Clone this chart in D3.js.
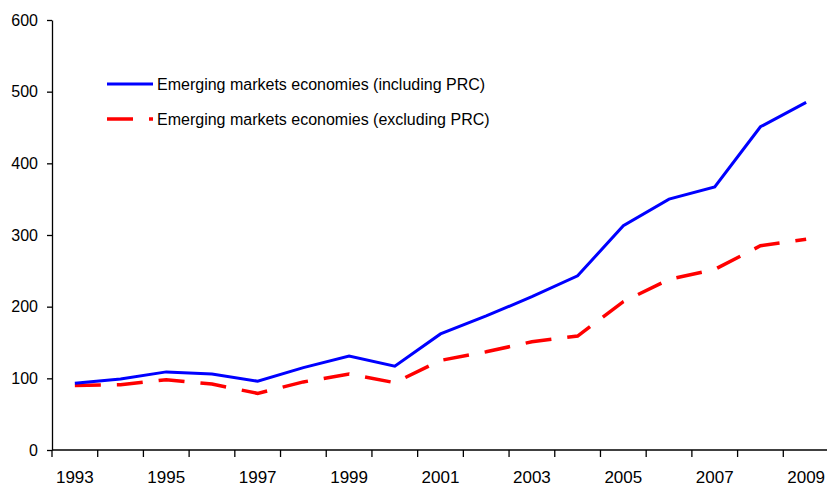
<!DOCTYPE html>
<html>
<head>
<meta charset="utf-8">
<title>Emerging markets</title>
<script src="https://d3js.org/d3.v7.min.js"></script>
<style>
  body { margin: 0; background: #fff; }
  text { font-family: "Liberation Sans", Arial, sans-serif; fill: #000; }
  .axis path, .axis line { stroke: #000; stroke-width: 1.3; }
</style>
</head>
<body>
<svg width="827" height="487"></svg>
<script>
var years = d3.range(1993, 2010);
var inclPRC = [93, 99, 109, 106, 96, 115, 131, 117, 162, 187, 214, 243, 313, 350, 367, 451, 485];
var exclPRC = [90, 91, 98, 92, 79, 95, 106, 94, 125, 137, 151, 159, 207, 238, 252, 285, 294];
var yTicks = [0, 100, 200, 300, 400, 500, 600];
var seriesNames = ["Emerging markets economies (including PRC)", "Emerging markets economies (excluding PRC)"];

var svg = d3.select("svg"),
    plotLeft = 52, plotRight = 829, plotTop = 20, plotBottom = 450;

var x = d3.scaleBand().domain(years).range([plotLeft, plotRight]).padding(0);
var y = d3.scaleLinear().domain([0, 600]).range([plotBottom, plotTop]);

// y axis
var yAxis = svg.append("g").attr("class", "axis")
    .attr("transform", "translate(" + plotLeft + ",0)")
    .call(d3.axisLeft(y).tickValues(yTicks).tickSize(5).tickPadding(9).tickSizeOuter(0));
yAxis.selectAll("text").style("font-size", "16px");

// x axis: ticks on category boundaries, labels every other year
var xAxis = svg.append("g").attr("class", "axis")
    .attr("transform", "translate(0," + plotBottom + ")");
xAxis.append("line").attr("x1", plotLeft).attr("x2", plotRight).attr("y1", 0).attr("y2", 0);
xAxis.selectAll(".tk").data(years.concat([2010]))
  .enter().append("line").attr("class", "tk")
    .attr("x1", function(d) { return d === 2010 ? plotRight : x(d); })
    .attr("x2", function(d) { return d === 2010 ? plotRight : x(d); })
    .attr("y1", 0).attr("y2", 7);
xAxis.selectAll(".lb").data(years.filter(function(d) { return d % 2 === 1; }))
  .enter().append("text").attr("class", "lb")
    .attr("x", function(d) { return x(d) + x.bandwidth() / 2; })
    .attr("y", 33)
    .attr("text-anchor", "middle")
    .style("font-size", "17px")
    .text(function(d) { return d; });

var line = d3.line()
    .x(function(d, i) { return x(years[i]) + x.bandwidth() / 2; })
    .y(function(d) { return y(d); });

svg.append("path").datum(exclPRC)
    .attr("fill", "none").attr("stroke", "#ff0000").attr("stroke-width", 3.5)
    .attr("stroke-dasharray", "26,16")
    .attr("d", line);

svg.append("path").datum(inclPRC)
    .attr("fill", "none").attr("stroke", "#0000ff").attr("stroke-width", 3)
    .attr("d", line);

// legend
var legend = svg.append("g");
var legStyles = [
  { color: "#0000ff", dash: null, w: 3, y: 84 },
  { color: "#ff0000", dash: "26,16", w: 3.5, y: 119 }
];
seriesNames.forEach(function(name, i) {
  var s = legStyles[i];
  legend.append("line")
      .attr("x1", 107).attr("x2", 153).attr("y1", s.y).attr("y2", s.y)
      .attr("stroke", s.color).attr("stroke-width", s.w)
      .attr("stroke-dasharray", s.dash);
  legend.append("text")
      .attr("x", 157).attr("y", s.y + 6)
      .style("font-size", "16px")
      .text(name);
});
</script>
</body>
</html>
